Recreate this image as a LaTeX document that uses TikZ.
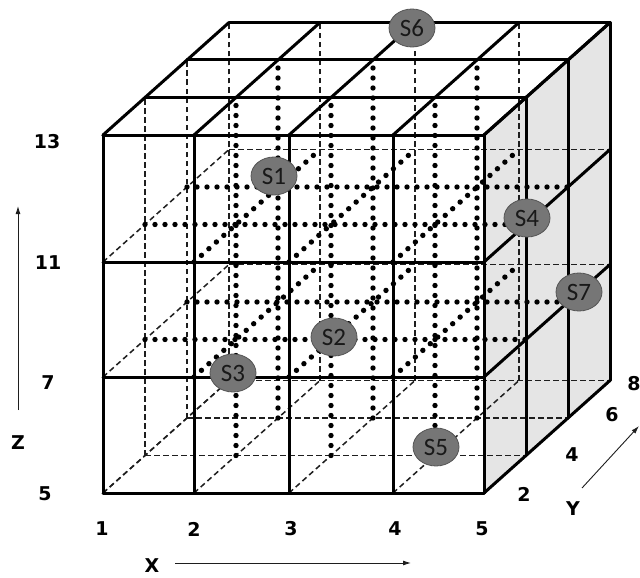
\documentclass[tikz,border=0pt]{standalone}
\usepackage{fontspec}
\setmainfont{DejaVu Sans}
\newfontfamily\sensorfont{Carlito}
\definecolor{sensorgray}{RGB}{118,118,118}
\definecolor{sensorrim}{RGB}{85,85,85}
\definecolor{sidegray}{RGB}{229,229,229}
\definecolor{inkgray}{RGB}{30,30,30}
\usetikzlibrary{arrows.meta,shapes.geometric}

\begin{document}
\begin{tikzpicture}[
  x=1pt,y=-1pt,
  gridedge/.style={line width=3pt,line cap=round,line join=round},
  hiddenedge/.style={line width=1.5pt,draw=inkgray,dash pattern=on 5.5pt off 3.5pt},
  innerline/.style={line width=5.4pt,line cap=round,dash pattern=on 0pt off 10pt},
  sensor/.style={ellipse,draw=sensorrim,fill=sensorgray,line width=0.8pt,
                 minimum width=46pt,minimum height=38pt,inner sep=0pt,
                 font=\sensorfont\fontsize{25}{25}\selectfont,text=black!90},
  axislabel/.style={font=\bfseries\fontsize{19}{19}\selectfont,inner sep=0pt},
  axisarrow/.style={line width=0.9pt,draw=inkgray,-{Latex[length=8pt,width=5pt]}},
]
  \useasboundingbox[fill=white] (0,0) rectangle (640,578);

  % lattice points p<x><depth><z>
  \foreach \i/\xx in {0/103,1/194,2/289,3/393,4/484}
    \foreach \j in {0,...,3}
      \foreach \k/\zz in {0/493,1/377,2/262,3/135}
        \coordinate (p\i\j\k) at ({\xx+42*\j},{\zz-37.5*\j});

  % right side
  \fill[sidegray] (p400) -- (p403) -- (p433) -- (p430) -- cycle;

  % back face
  \foreach \i in {0,...,3} \draw[hiddenedge] (p\i30) -- (p\i33);
  \foreach \k in {0,...,2} \draw[hiddenedge] (p03\k) -- (p43\k);
  % left face
  \foreach \j in {1,...,3} \draw[hiddenedge] (p0\j0) -- (p0\j3);
  \foreach \k in {0,...,2} \draw[hiddenedge] (p00\k) -- (p03\k);
  % bottom face
  \foreach \i in {0,...,3} \draw[hiddenedge] (p\i00) -- (p\i30);
  \foreach \j in {1,...,3} \draw[hiddenedge] (p0\j0) -- (p4\j0);

  % inner lines
  \foreach \i in {1,2,3} \foreach \j in {1,2} \draw[innerline] (p\i\j0) -- (p\i\j3);
  \foreach \j in {1,2} \foreach \k in {1,2} \draw[innerline] (p0\j\k) -- (p4\j\k);
  \foreach \i in {1,2,3} \foreach \k in {1,2} \draw[innerline] (p\i0\k) -- (p\i3\k);

  % front face
  \foreach \i in {0,...,4} \draw[gridedge] (p\i00) -- (p\i03);
  \foreach \k in {0,...,3} \draw[gridedge] (p00\k) -- (p40\k);
  % top face
  \foreach \i in {0,...,4} \draw[gridedge] (p\i03) -- (p\i33);
  \foreach \j in {0,...,3} \draw[gridedge] (p0\j3) -- (p4\j3);
  % right face
  \foreach \j in {0,...,3} \draw[gridedge] (p4\j0) -- (p4\j3);
  \foreach \k in {0,...,3} \draw[gridedge] (p40\k) -- (p43\k);

  % sensors
  \node[sensor] (s1) at (274,176) {S1};
  \node[sensor] (s2) at (334,337) {S2};
  \node[sensor] (s3) at (233,373) {S3};
  \node[sensor] (s4) at (527,218) {S4};
  \node[sensor] (s5) at (436,447) {S5};
  \node[sensor] (s6) at (412,28) {S6};
  \node[sensor] (s7) at (579,292) {S7};

  % z values
  \node[axislabel] (z13) at (47,142) {13};
  \node[axislabel] (z11) at (48,263) {11};
  \node[axislabel] (z7)  at (48,383) {7};
  \node[axislabel] (z5)  at (45,494) {5};
  \node[axislabel] (zname) at (18,443) {Z};
  % x values
  \node[axislabel] (x1) at (102,529) {1};
  \node[axislabel] (x2) at (194,529) {2};
  \node[axislabel] (x3) at (291,529) {3};
  \node[axislabel] (x4) at (395,529) {4};
  \node[axislabel] (x5) at (482,529) {5};
  \node[axislabel] (xname) at (152,566) {X};
  % y values
  \node[axislabel] (y2) at (524,494) {2};
  \node[axislabel] (y4) at (572,455) {4};
  \node[axislabel] (y6) at (612,415) {6};
  \node[axislabel] (y8) at (634,384) {8};
  \node[axislabel] (yname) at (573,509) {Y};

  % axis arrows
  \coordinate (ztail) at (18,410);
  \coordinate (zhead) at (18,206);
  \coordinate (xtail) at (175,563);
  \coordinate (xhead) at (411,563);
  \coordinate (ytail) at (582,488);
  \coordinate (yhead) at (639,426);
  \draw[axisarrow] (ztail) -- (zhead);
  \draw[axisarrow] (xtail) -- (xhead);
  \draw[axisarrow] (ytail) -- (yhead);
\end{tikzpicture}
\end{document}
